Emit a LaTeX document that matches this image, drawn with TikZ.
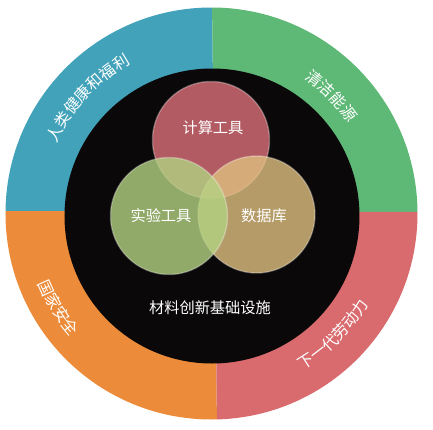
\documentclass[tikz,border=0pt]{standalone}
\usepackage{fontspec}
\usepackage{tikz}
\usetikzlibrary{decorations.text}
\newfontfamily\cjk{Noto Sans CJK SC}
\definecolor{ringblue}{HTML}{41A2BA}
\definecolor{ringgreen}{HTML}{5EB876}
\definecolor{ringorange}{HTML}{EC8C3B}
\definecolor{ringred}{HTML}{D96B6E}
\definecolor{basecore}{HTML}{0A0808}
\definecolor{toolred}{HTML}{DC707A}
\definecolor{toolgreen}{HTML}{B3D282}
\definecolor{tooltan}{HTML}{E0C080}

\begin{document}
\begin{tikzpicture}[x=0.3mm,y=0.3mm,%
tool/.style={circle,minimum size=117*0.3mm,inner sep=0pt,fill opacity=0.8,draw=white,draw opacity=0.3,line width=1.2pt},
label/.style={text=white,font=\cjk\fontsize{13}{15}\selectfont},
ring/.style={decorate,decoration={text along path,text align=center,
  text={|\color{white}\cjk\fontsize{13.5}{15}\selectfont|#1}}}
]
\fill[white] (-211.5,-215.5) rectangle (221.5,213.5);
\useasboundingbox (-211.5,-215.5) rectangle (221.5,213.5);
% four goals in the outer ring
\coordinate (mid) at (3,2);
\coordinate (top) at (0.5,215);
\coordinate (bottom) at (5.5,-215);
\coordinate (left) at (-215,2.5);
\coordinate (right) at (215,1.5);
\begin{scope}
\clip (0,0) circle (206);
\fill[ringblue] (mid) -- (top) -- (-215,215) -- (left) -- cycle;
\fill[ringgreen] (mid) -- (top) -- (215,215) -- (right) -- cycle;
\fill[ringorange] (mid) -- (bottom) -- (-215,-215) -- (left) -- cycle;
\fill[ringred] (mid) -- (bottom) -- (215,-215) -- (right) -- cycle;
\end{scope}
\path[ring={人类健康和福利}] (177:170) arc[start angle=177,end angle=97,radius=170];
\path[ring={清洁能源}] (84.5:164) arc[start angle=84.5,end angle=4.5,radius=164];
\path[ring={国家安全}] (171.6:187) arc[start angle=171.6,end angle=251.6,radius=187];
\path[ring={下一代劳动力}] (-84.9:181) arc[start angle=-84.9,end angle=-4.9,radius=181];
% infrastructure core
\node[circle,minimum size=295*0.3mm,inner sep=0pt,fill=basecore] (base) at (0.5,-2.5) {};
\node[style=tool,fill=toolred] (compute) at (-0.5,73.5) {};
\node[style=tool,fill=tooltan] (database) at (45,-1) {};
\node[style=tool,fill=toolgreen] (experiment) at (-42.5,-2.5) {};
\node[style=label] (compute label) at (1.5,85.5) {计算工具};
\node[style=label] (experiment label) at (-50.5,-2.5) {实验工具};
\node[style=label] (database label) at (52.5,-2.5) {数据库};
\node[style=label] (base label) at (-1.5,-94.5) {材料创新基础设施};
\end{tikzpicture}
\end{document}
